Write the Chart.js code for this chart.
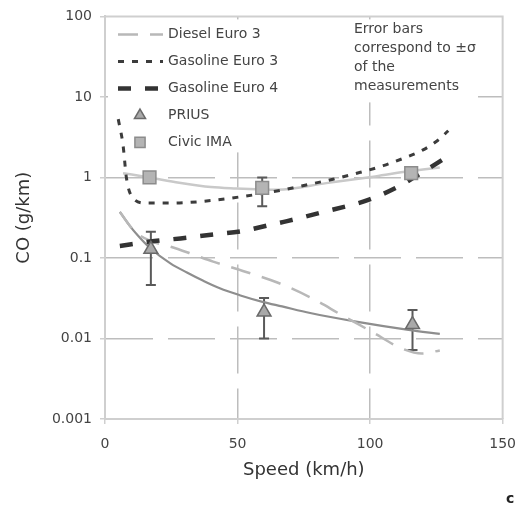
<!DOCTYPE html>
<html>
<head>
<meta charset="utf-8">
<script src="https://cdn.jsdelivr.net/npm/chart.js@4/dist/chart.umd.min.js"></script>
<style>
  body { margin: 0; background: #fff; }
  #wrap { position: relative; width: 528px; height: 506px; }
  .note { position: absolute; left: 354px; top: 19px; font: 14px "DejaVu Sans", sans-serif; line-height: 19px; color: #444; }
  .panel { position: absolute; left: 506px; top: 490px; font: bold 14px "DejaVu Sans", sans-serif; color: #222; }
</style>
</head>
<body>
<div id="wrap">
  <canvas id="coChart"></canvas>
  <div class="note">Error bars<br>correspond to ±σ<br>of the<br>measurements</div>
  <div class="panel">c</div>
</div>
<script>
// measured points
const priusSpeed = [17.3, 60, 116];
const priusCO = [0.128, 0.0213, 0.0149];
const priusLow = [0.046, 0.010, 0.0072];
const priusHigh = [0.211, 0.0318, 0.0226];

const civicSpeed = [16.8, 59.3, 115.5];
const civicCO = [1.0, 0.74, 1.13];
const civicLow = [null, 0.44, null];
const civicHigh = [null, 1.0, null];

// fitted / reference curves
const priusFitX = [5.6, 9, 12.4, 17.3, 24.8, 30.9, 37.1, 43.3, 50.8, 59.4, 66.8, 77.4, 94.7, 114.5, 126.3];
const priusFitY = [0.373, 0.26, 0.19, 0.13, 0.085, 0.066, 0.052, 0.042, 0.0345, 0.0285, 0.025, 0.0207, 0.0162, 0.0128, 0.0114];

const civicFitX = [6.8, 16.7, 28, 40, 49.5, 59.4, 65, 83.5, 102, 114.5, 126.3];
const civicFitY = [1.13, 1.0, 0.86, 0.76, 0.73, 0.71, 0.705, 0.85, 1.03, 1.19, 1.33];

const dieselX = [5.6, 11.1, 17.3, 24.8, 32.2, 40.8, 52, 65, 77.4, 89.7, 100.9, 112, 119.5, 126.3];
const dieselY = [0.373, 0.216, 0.162, 0.138, 0.114, 0.09, 0.069, 0.0496, 0.0324, 0.0192, 0.012, 0.0075, 0.0065, 0.0071];

const gas3X = [5, 6.8, 8.1, 10.5, 15.5, 25, 37, 52, 66, 77, 86, 96, 105, 112, 120, 125.6, 129.5];
const gas3Y = [5.3, 2.53, 0.98, 0.556, 0.48, 0.48, 0.505, 0.58, 0.69, 0.82, 0.95, 1.15, 1.4, 1.7, 2.2, 2.9, 3.8];

const gas4X = [5.6, 18.6, 28.5, 40.8, 52, 61.9, 68.7, 81, 99.6, 110.8, 118.2, 129.3];
const gas4Y = [0.141, 0.162, 0.175, 0.196, 0.216, 0.256, 0.287, 0.363, 0.53, 0.774, 1.08, 1.82];

const yTicks = [0.001, 0.01, 0.1, 1, 10, 100];
const yTickLabels = ['0.001', '0.01', '0.1', '1', '10', '100'];
const xTicks = [0, 50, 100, 150];

const FONT = '"DejaVu Sans", Verdana, sans-serif';
const GRID = '#bdbdbd';
const pts = (xs, ys) => xs.map((x, i) => ({ x: x, y: ys[i] }));

const errorSets = [
    { xs: priusSpeed, lows: priusLow, highs: priusHigh },
    { xs: civicSpeed, lows: civicLow, highs: civicHigh }
];

const overlay = {
    id: 'overlay',
    beforeDatasetsDraw(chart) {
        const { ctx, chartArea: a, scales } = chart;
        ctx.save();
        // legend / note backgrounds hide the grid
        ctx.fillStyle = '#fff';
        ctx.fillRect(a.left + 3, a.top + 3, 244, 133);
        ctx.fillRect(a.left + 247, a.top + 3, 126, 83);
        // plot frame top + right
        ctx.strokeStyle = '#cfcfcf';
        ctx.lineWidth = 2;
        ctx.beginPath();
        ctx.moveTo(a.left, a.top);
        ctx.lineTo(a.right, a.top);
        ctx.lineTo(a.right, a.bottom);
        ctx.stroke();
        // error bars
        ctx.strokeStyle = '#5a5a5a';
        ctx.lineWidth = 2;
        errorSets.forEach(s => {
            s.xs.forEach((v, i) => {
                if (s.lows[i] == null) return;
                const px = scales.x.getPixelForValue(v);
                const y1 = scales.y.getPixelForValue(s.highs[i]);
                const y2 = scales.y.getPixelForValue(s.lows[i]);
                ctx.beginPath();
                ctx.moveTo(px, y1); ctx.lineTo(px, y2);
                ctx.moveTo(px - 5, y1); ctx.lineTo(px + 5, y1);
                ctx.moveTo(px - 5, y2); ctx.lineTo(px + 5, y2);
                ctx.stroke();
            });
        });
        ctx.restore();
    },
    afterDatasetsDraw(chart) {
        const { ctx, chartArea: a } = chart;
        const items = chart.data.datasets.filter(d => d.legendOrder != null)
            .sort((p, q) => p.legendOrder - q.legendOrder);
        ctx.save();
        ctx.font = '14px ' + FONT;
        ctx.textBaseline = 'middle';
        items.forEach((d, i) => {
            const cy = a.top + 18 + i * 27;
            if (d.showLine === false) {
                ctx.fillStyle = d.pointBackgroundColor;
                ctx.strokeStyle = d.pointBorderColor;
                ctx.lineWidth = d.pointBorderWidth;
                Chart.helpers.drawPoint(ctx, {
                    pointStyle: d.pointStyle, radius: d.pointRadius * 0.8,
                    rotation: 0, borderWidth: d.pointBorderWidth
                }, a.left + 35, cy);
            } else {
                ctx.strokeStyle = d.borderColor;
                ctx.lineWidth = d.borderWidth;
                ctx.setLineDash(d.borderDash || []);
                ctx.beginPath();
                ctx.moveTo(a.left + 13, cy);
                ctx.lineTo(a.left + 58, cy);
                ctx.stroke();
                ctx.setLineDash([]);
            }
            ctx.fillStyle = '#444';
            ctx.fillText(d.label, a.left + 63, cy);
        });
        ctx.restore();
    }
};

const lineSet = (label, xs, ys, color, width, dash, order) => ({
    label: label, data: pts(xs, ys), showLine: true,
    borderColor: color, borderWidth: width, borderDash: dash,
    pointRadius: 0, cubicInterpolationMode: 'monotone',
    legendOrder: order
});

new Chart(document.getElementById('coChart'), {
    type: 'scatter',
    data: {
        datasets: [
            {
                label: 'PRIUS', data: pts(priusSpeed, priusCO), showLine: false,
                pointStyle: 'triangle', pointRadius: 8,
                pointBackgroundColor: '#a9a9a9', pointBorderColor: '#6a6a6a', pointBorderWidth: 1.5,
                legendOrder: 3
            },
            {
                label: 'Civic IMA', data: pts(civicSpeed, civicCO), showLine: false,
                pointStyle: 'rect', pointRadius: 9,
                pointBackgroundColor: '#b4b4b4', pointBorderColor: '#8c8c8c', pointBorderWidth: 1.5,
                legendOrder: 4
            },
            lineSet('Gasoline Euro 4', gas4X, gas4Y, '#333333', 4.5, [13, 14], 2),
            lineSet('Gasoline Euro 3', gas3X, gas3Y, '#3c3c3c', 3, [6, 8], 1),
            lineSet('Diesel Euro 3', dieselX, dieselY, '#b8b8b8', 2.5, [20, 12], 0),
            lineSet('PRIUS fit', priusFitX, priusFitY, '#8e8e8e', 2.2, [], null),
            lineSet('Civic IMA fit', civicFitX, civicFitY, '#c9c9c9', 2.5, [], null)
        ]
    },
    options: {
        responsive: true,
        maintainAspectRatio: false,
        animation: false,
        layout: { padding: { top: 14, right: 19, left: 0, bottom: 0 } },
        plugins: { legend: { display: false }, tooltip: { enabled: false } },
        scales: {
            x: {
                type: 'linear', min: 0, max: 150,
                afterBuildTicks: s => { s.ticks = xTicks.map(v => ({ value: v })); },
                afterFit: s => { s.height = 87; },
                ticks: { font: { family: FONT, size: 14 }, color: '#444', padding: 12 },
                grid: {
                    color: c => (c.tick && (c.tick.value === 0 || c.tick.value === 150)) ? 'rgba(0,0,0,0)' : GRID,
                    tickColor: '#cfcfcf', tickLength: 5, lineWidth: 1.5
                },
                border: { color: '#cfcfcf', width: 2, dash: [47, 15] },
                title: {
                    display: true, text: 'Speed (km/h)', color: '#333',
                    font: { family: FONT, size: 18 }, padding: { top: 0, bottom: 25 }
                }
            },
            y: {
                type: 'logarithmic', min: 0.001, max: 100,
                afterBuildTicks: s => { s.ticks = yTicks.map(v => ({ value: v })); },
                afterFit: s => { s.width = 105; },
                ticks: {
                    font: { family: FONT, size: 14 }, color: '#444', padding: 8,
                    callback: (v, i) => yTickLabels[i]
                },
                grid: {
                    color: c => (c.tick && (c.tick.value === 100 || c.tick.value === 0.001)) ? 'rgba(0,0,0,0)' : GRID,
                    tickColor: '#cfcfcf', tickLength: 5, lineWidth: 1.5
                },
                border: { color: '#cfcfcf', width: 2, dash: [47, 15] },
                title: {
                    display: true, text: 'CO (g/km)', color: '#333',
                    font: { family: FONT, size: 18 }, padding: { top: 14, bottom: 0 }
                }
            }
        }
    },
    plugins: [overlay]
});
</script>
</body>
</html>
